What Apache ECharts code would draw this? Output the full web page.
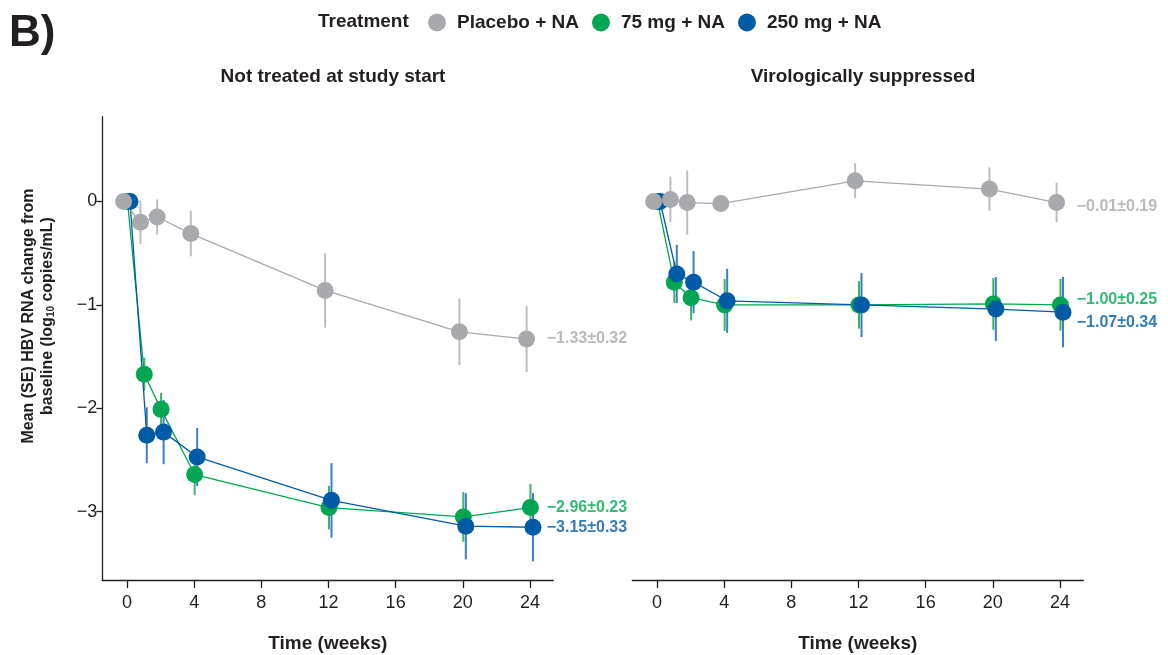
<!DOCTYPE html>
<html>
<head>
<meta charset="utf-8">
<script src="https://cdn.jsdelivr.net/npm/echarts@6/dist/echarts.min.js"></script>
<style>html,body{margin:0;padding:0;background:#fff}#c{width:1168px;height:655px}</style>
</head>
<body>
<div id="c"></div>
<script>
// ---------- data ----------
const weeks = [0, 1, 2, 4, 12, 20, 24];
const xTicks = [0, 4, 8, 12, 16, 20, 24];
const yTicks = [-3, -2, -1, 0];
const treatments = ['Placebo + NA', '75 mg + NA', '250 mg + NA'];
const panelTitles = ['Not treated at study start', 'Virologically suppressed'];

// Panel 1: not treated at study start
const placeboNT = [0, -0.20, -0.15, -0.31, -0.86, -1.26, -1.33];
const placeboNTse = [0, 0.21, 0.17, 0.22, 0.36, 0.32, 0.32];
const mg75NT = [0, -1.67, -2.01, -2.64, -2.96, -3.05, -2.96];
const mg75NTse = [0, 0.16, 0.16, 0.20, 0.21, 0.24, 0.23];
const mg250NT = [0, -2.26, -2.23, -2.47, -2.89, -3.14, -3.15];
const mg250NTse = [0, 0.27, 0.31, 0.28, 0.36, 0.32, 0.33];

// Panel 2: virologically suppressed
const placeboVS = [0, 0.02, -0.01, -0.02, 0.20, 0.12, -0.01];
const placeboVSse = [0, 0.22, 0.31, 0.07, 0.17, 0.21, 0.19];
const mg75VS = [0, -0.78, -0.93, -1.00, -1.00, -0.99, -1.00];
const mg75VSse = [0, 0.20, 0.22, 0.25, 0.23, 0.25, 0.25];
const mg250VS = [0, -0.70, -0.78, -0.96, -1.00, -1.04, -1.07];
const mg250VSse = [0, 0.28, 0.30, 0.31, 0.31, 0.31, 0.34];

// End-of-study labels (week 24 mean ± SE)
const endLabelsNT = ['\u22121.33\u00b10.32', '\u22122.96\u00b10.23', '\u22123.15\u00b10.33'];
const endLabelsVS = ['\u22120.01\u00b10.19', '\u22121.00\u00b10.25', '\u22121.07\u00b10.34'];

// ---------- styling ----------
const colors = ['#a7a9ac', '#00a651', '#005ba6'];
const errColors = ['#bcbdc0', '#3bb46c', '#3a7fc1'];
const dodge = [-0.2, 0.03, 0.18];
const ink = '#231f20';
const labelX = 25.0;
const labelOffsets = [[0, 0, 0], [4, -5, 10]]; // px vertical, per panel/series

const panels = [
  { means: [placeboNT, mg75NT, mg250NT], ses: [placeboNTse, mg75NTse, mg250NTse], labels: endLabelsNT },
  { means: [placeboVS, mg75VS, mg250VS], ses: [placeboVSse, mg75VSse, mg250VSse], labels: endLabelsVS }
];

const series = [];
panels.forEach((p, pi) => {
  // error bars
  [1, 2, 0].forEach(si => {
    series.push({
      type: 'custom',
      name: 'err-' + pi + '-' + si,
      xAxisIndex: pi, yAxisIndex: pi,
      z: 1,
      silent: true,
      data: weeks.map((w, i) => [w + dodge[si], p.means[si][i], p.ses[si][i]]),
      encode: { x: 0, y: 1 },
      renderItem: (params, api) => {
        const x = api.value(0), y = api.value(1), e = api.value(2);
        const a = api.coord([x, y + e]);
        const b = api.coord([x, y - e]);
        return { type: 'line', shape: { x1: a[0], y1: a[1], x2: b[0], y2: b[1] },
                 style: { stroke: errColors[si], lineWidth: 2 } };
      }
    });
  });
  // lines + points (order: 75 mg, 250 mg, placebo on top)
  [1, 2, 0].forEach(si => {
    series.push({
      type: 'line',
      name: treatments[si],
      xAxisIndex: pi, yAxisIndex: pi,
      z: 2,
      symbol: 'circle',
      symbolSize: 17,
      showAllSymbol: true,
      lineStyle: { color: colors[si], width: 1.3 },
      itemStyle: { color: colors[si] },
      emphasis: { disabled: true },
      data: weeks.map((w, i) => [w + dodge[si], p.means[si][i]])
    });
  });
  // end labels
  [0, 1, 2].forEach(si => {
    const last = p.means[si][p.means[si].length - 1];
    series.push({
      type: 'scatter',
      name: 'lab-' + pi + '-' + si,
      xAxisIndex: pi, yAxisIndex: pi,
      symbolSize: 0,
      silent: true,
      data: [[labelX, last]],
      label: {
        show: true, position: 'right', distance: 0,
        offset: [0, labelOffsets[pi][si]],
        formatter: p.labels[si],
        color: colors[si], fontSize: 16, fontWeight: 'bold',
        fontFamily: 'Liberation Sans, Arial, sans-serif'
      }
    });
  });
});

const font = 'Liberation Sans, Arial, sans-serif';
const minus = v => String(v).replace('-', '\u2212');

const xAxisBase = {
  type: 'value', min: -1.47, max: 25.39,
  axisLine: { onZero: false, lineStyle: { color: ink, width: 1.3 } },
  axisTick: { customValues: xTicks, length: 8, lineStyle: { color: ink, width: 1.3 } },
  axisLabel: { customValues: xTicks, fontSize: 18, color: ink, margin: 14, fontFamily: font },
  splitLine: { show: false },
  name: 'Time (weeks)', nameLocation: 'middle', nameGap: 54,
  nameTextStyle: { fontSize: 19, fontWeight: 'bold', color: ink, fontFamily: font }
};

const option = {
  animation: false,
  backgroundColor: '#fff',
  textStyle: { fontFamily: font },
  title: [
    { text: panelTitles[0], left: 328, top: 62, textAlign: 'center',
      textStyle: { fontSize: 19, fontWeight: 'bold', color: ink, fontFamily: font } },
    { text: panelTitles[1], left: 858, top: 62, textAlign: 'center',
      textStyle: { fontSize: 19, fontWeight: 'bold', color: ink, fontFamily: font } }
  ],
  legend: {
    data: treatments,
    left: 423, top: 8,
    icon: 'circle', itemWidth: 18, itemHeight: 18, itemGap: 13,
    selectedMode: false,
    textStyle: { fontSize: 19, fontWeight: 'bold', color: ink, fontFamily: font, padding: [0, 0, 0, 6] }
  },
  graphic: [
    { type: 'text', left: 9, top: 12,
      style: { text: 'B)', fontSize: 44, fontWeight: 'bold', fill: ink, fontFamily: font } },
    { type: 'text', x: 318, y: 22,
      style: { text: 'Treatment', fontSize: 19, fontWeight: 'bold', fill: ink, fontFamily: font, verticalAlign: 'middle' } },
    { type: 'text', x: 38, y: 316, rotation: Math.PI / 2,
      style: {
        text: '{b|Mean (SE) HBV RNA change from}\n{b|baseline (log}{s|10}{b| copies/mL)}',
        align: 'center', verticalAlign: 'middle', fill: ink,
        rich: {
          b: { fontSize: 16, fontWeight: 'bold', lineHeight: 19, fill: ink, fontFamily: font },
          s: { fontSize: 10, fontWeight: 'bold', lineHeight: 19, fill: ink, fontFamily: font, padding: [8, 0, 0, 0] }
        }
      } }
  ],
  grid: [
    { left: 102.3, right: 614.7, top: 116.7, bottom: 75, outerBoundsMode: 'none', containLabel: false },
    { left: 632.3, right: 84.7, top: 116.7, bottom: 75, outerBoundsMode: 'none', containLabel: false }
  ],
  xAxis: [
    Object.assign({ gridIndex: 0 }, xAxisBase),
    Object.assign({ gridIndex: 1 }, xAxisBase)
  ],
  yAxis: [
    { gridIndex: 0, type: 'value', min: -3.66, max: 0.82,
      axisLine: { show: true, onZero: false, lineStyle: { color: ink, width: 1.3 } },
      axisTick: { show: true, customValues: yTicks, length: 6, lineStyle: { color: ink, width: 1.3 } },
      axisLabel: { customValues: yTicks, fontSize: 18, color: ink, margin: 5, fontFamily: font, formatter: minus },
      splitLine: { show: false } },
    { gridIndex: 1, type: 'value', min: -3.66, max: 0.82,
      axisLine: { show: false }, axisTick: { show: false }, axisLabel: { show: false },
      splitLine: { show: false } }
  ],
  series: series
};

const chart = echarts.init(document.getElementById('c'), null, { renderer: 'canvas' });
chart.setOption(option);
</script>
</body>
</html>
